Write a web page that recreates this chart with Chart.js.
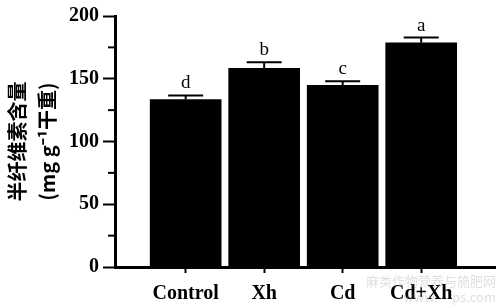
<!DOCTYPE html>
<html>
<head>
<meta charset="utf-8">
<script src="https://cdn.jsdelivr.net/npm/chart.js@4"></script>
<style>
  html, body { margin: 0; padding: 0; background: #fff; }
  #wrap { width: 502px; height: 308px; position: relative; }
</style>
</head>
<body>
<div id="wrap"><canvas id="chart"></canvas></div>
<script>
// data
var groups = ['Control', 'Xh', 'Cd', 'Cd+Xh'];
var means = [133.5, 158.3, 144.8, 178.6];
var errors = [3.2, 4.8, 3.2, 4.2];
var letters = ['d', 'b', 'c', 'a'];
var yTicks = [0, 50, 100, 150, 200];
var yMinor = [25, 75, 125, 175];

var serif = "'Liberation Serif', 'Times New Roman', serif";

var extras = {
    id: 'extras',
    afterDatasetsDraw: function(chart) {
        var ctx = chart.ctx;
        var xs = chart.scales.x, ys = chart.scales.y;
        ctx.save();
        ctx.strokeStyle = '#000';
        ctx.fillStyle = '#000';
        ctx.lineWidth = 2;
        for (var i = 0; i < means.length; i++) {
            var x = xs.getPixelForValue(i);
            var yb = ys.getPixelForValue(means[i]);
            var yt = ys.getPixelForValue(means[i] + errors[i]);
            ctx.beginPath();
            ctx.moveTo(x, yb);
            ctx.lineTo(x, yt);
            ctx.moveTo(x - 17.5, yt);
            ctx.lineTo(x + 17.5, yt);
            ctx.stroke();
            ctx.font = '19px ' + serif;
            ctx.textAlign = 'center';
            ctx.textBaseline = 'alphabetic';
            ctx.fillText(letters[i], x, yt - 7);
        }
        // minor ticks on y axis
        var left = chart.chartArea.left;
        for (var j = 0; j < yMinor.length; j++) {
            var y = ys.getPixelForValue(yMinor[j]);
            ctx.beginPath();
            ctx.moveTo(left - 7, y);
            ctx.lineTo(left, y);
            ctx.stroke();
        }
        // watermark
        ctx.font = '13px "Noto Sans CJK SC"';
        ctx.fillStyle = 'rgba(150,150,150,0.3)';
        ctx.textAlign = 'right';
        ctx.fillText('麻类作物营养与施肥网', 496, 286);
        ctx.fillText('www.     ps.com', 496, 302);
        ctx.restore();
    }
};

new Chart(document.getElementById('chart').getContext('2d'), {
    type: 'bar',
    data: {
        datasets: [{
            data: means.map(function(v, i) { return { x: i, y: v }; }),
            backgroundColor: '#000',
            borderWidth: 0,
            barThickness: 71
        }]
    },
    options: {
        responsive: true,
        maintainAspectRatio: false,
        animation: false,
        layout: { padding: { top: 15, right: 7, left: 0, bottom: 0 } },
        plugins: { legend: { display: false }, tooltip: { enabled: false } },
        scales: {
            x: {
                type: 'linear',
                offset: false,
                min: -0.9,
                max: 3.94,
                afterBuildTicks: function(scale) {
                    scale.ticks = groups.map(function(g, i) { return { value: i }; });
                },
                afterFit: function(scale) { scale.height = 41; },
                grid: {
                    display: true,
                    offset: false,
                    drawOnChartArea: false,
                    tickLength: 6,
                    tickWidth: 2,
                    tickColor: '#000'
                },
                border: { display: true, color: '#000', width: 3 },
                ticks: {
                    autoSkip: false,
                    maxRotation: 0,
                    padding: 9,
                    color: '#000',
                    font: { family: serif, size: 20, weight: 'bold' },
                    callback: function(v) { return groups[v]; }
                }
            },
            y: {
                min: 0,
                max: 200,
                afterBuildTicks: function(scale) {
                    scale.ticks = yTicks.map(function(v) { return { value: v }; });
                },
                afterFit: function(scale) { scale.width = 115; },
                grid: {
                    display: true,
                    drawOnChartArea: false,
                    tickLength: 12,
                    tickWidth: 2,
                    tickColor: '#000'
                },
                border: { display: true, color: '#000', width: 3 },
                ticks: {
                    padding: 4,
                    color: '#000',
                    font: { family: serif, size: 20, weight: 'bold' }
                },
                title: {
                    display: true,
                    text: ['半纤维素含量', '(mg g⁻¹干重)'],
                    color: '#000',
                    font: { family: "'Noto Sans CJK SC'", size: 20, weight: 'bold', lineHeight: 1.5 },
                    padding: { top: 2, bottom: 4 }
                }
            }
        }
    },
    plugins: [extras]
});
</script>
</body>
</html>
